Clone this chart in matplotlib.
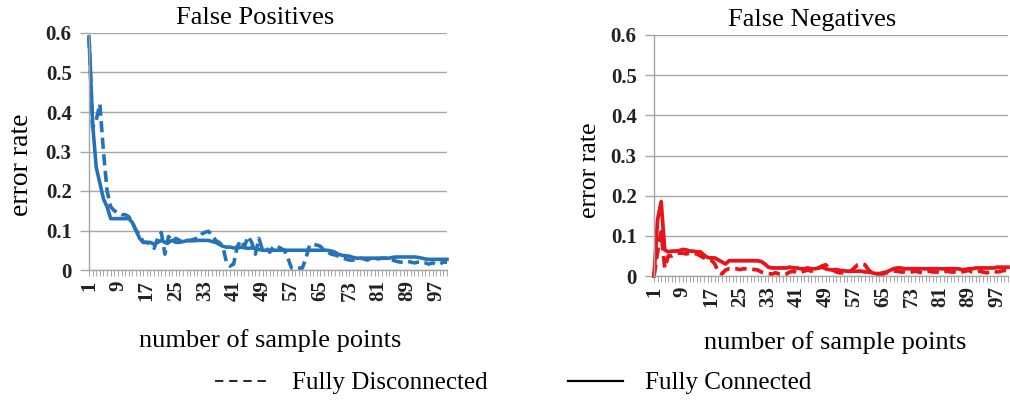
import matplotlib
matplotlib.use('Agg')

import numpy as np
import matplotlib.pyplot as plt
from matplotlib.lines import Line2D

plt.rcParams['font.family'] = ['Liberation Serif', 'DejaVu Serif']

# ---------------------------------------------------------------------------
# data: error rate per number of sample points (1..100)
# ---------------------------------------------------------------------------
sample_points = np.arange(1, 101)

fp_connected = [
    0.59, 0.37, 0.26, 0.22, 0.18, 0.16, 0.13, 0.13, 0.13, 0.13,
    0.13, 0.13, 0.12, 0.10, 0.08, 0.07, 0.07, 0.07, 0.065, 0.07,
    0.075, 0.07, 0.07, 0.075, 0.07, 0.07, 0.072, 0.074, 0.074, 0.074,
    0.075, 0.075, 0.075, 0.075, 0.072, 0.07, 0.065, 0.06, 0.058, 0.058,
    0.056, 0.056, 0.058, 0.056, 0.055, 0.056, 0.054, 0.052, 0.05, 0.05,
    0.05, 0.05, 0.05, 0.05, 0.05, 0.05, 0.05, 0.05, 0.05, 0.05,
    0.05, 0.05, 0.05, 0.05, 0.05, 0.05, 0.05, 0.048, 0.045, 0.04,
    0.037, 0.036, 0.035, 0.032, 0.03, 0.03, 0.03, 0.03, 0.03, 0.03,
    0.03, 0.03, 0.03, 0.03, 0.032, 0.033, 0.033, 0.033, 0.033, 0.033,
    0.033, 0.032, 0.03, 0.028, 0.027, 0.027, 0.027, 0.027, 0.027, 0.027,
]

fp_disconnected = [
    0.59, 0.36, 0.38, 0.42, 0.30, 0.20, 0.16, 0.15, 0.145, 0.14,
    0.14, 0.135, 0.12, 0.10, 0.09, 0.07, 0.07, 0.065, 0.055, 0.08,
    0.095, 0.04, 0.085, 0.07, 0.08, 0.075, 0.07, 0.075, 0.075, 0.078,
    0.08, 0.09, 0.095, 0.098, 0.09, 0.075, 0.07, 0.06, 0.02, 0.01,
    0.015, 0.06, 0.075, 0.06, 0.085, 0.07, 0.04, 0.08, 0.05, 0.055,
    0.045, 0.06, 0.06, 0.055, 0.05, 0.03, 0.005, 0.005, 0.005, 0.005,
    0.03, 0.063, 0.065, 0.063, 0.06, 0.05, 0.045, 0.04, 0.038, 0.035,
    0.03, 0.028, 0.025, 0.025, 0.028, 0.03, 0.028, 0.025, 0.03, 0.03,
    0.028, 0.03, 0.03, 0.028, 0.025, 0.022, 0.02, 0.02, 0.022, 0.02,
    0.018, 0.02, 0.02, 0.018, 0.015, 0.018, 0.015, 0.015, 0.02, 0.02,
]

fn_connected = [
    0.0, 0.14, 0.185, 0.065, 0.06, 0.062, 0.062, 0.063, 0.066, 0.065,
    0.062, 0.062, 0.06, 0.06, 0.052, 0.046, 0.045, 0.045, 0.04, 0.035,
    0.03, 0.038, 0.038, 0.038, 0.038, 0.038, 0.038, 0.038, 0.038, 0.038,
    0.036, 0.03, 0.022, 0.02, 0.02, 0.02, 0.02, 0.02, 0.022, 0.02,
    0.02, 0.018, 0.018, 0.02, 0.018, 0.018, 0.02, 0.022, 0.018, 0.016,
    0.015, 0.016, 0.014, 0.013, 0.012, 0.012, 0.012, 0.012, 0.012, 0.01,
    0.01, 0.008, 0.006, 0.006, 0.008, 0.01, 0.014, 0.018, 0.02, 0.02,
    0.018, 0.018, 0.018, 0.018, 0.018, 0.018, 0.018, 0.018, 0.018, 0.018,
    0.018, 0.018, 0.018, 0.018, 0.018, 0.018, 0.016, 0.016, 0.018, 0.018,
    0.02, 0.02, 0.02, 0.02, 0.02, 0.02, 0.022, 0.022, 0.022, 0.022,
]

fn_disconnected = [
    0.0, 0.06, 0.11, 0.02, 0.05, 0.05, 0.055, 0.057, 0.057, 0.055,
    0.057, 0.056, 0.055, 0.05, 0.045, 0.04, 0.04, 0.03, 0.01, 0.005,
    0.015, 0.018, 0.018, 0.018, 0.016, 0.018, 0.018, 0.018, 0.016, 0.015,
    0.01, 0.008, 0.006, 0.005, 0.008, 0.005, 0.003, 0.005, 0.01, 0.012,
    0.008, 0.01, 0.012, 0.015, 0.012, 0.018, 0.02, 0.025, 0.028, 0.02,
    0.015, 0.01, 0.008, 0.008, 0.01, 0.012, 0.02, 0.028, 0.03, 0.028,
    0.015, 0.008, 0.005, 0.005, 0.005, 0.008, 0.01, 0.012, 0.012, 0.01,
    0.01, 0.008, 0.01, 0.012, 0.01, 0.008, 0.01, 0.012, 0.01, 0.01,
    0.008, 0.01, 0.012, 0.01, 0.01, 0.008, 0.01, 0.012, 0.014, 0.01,
    0.01, 0.012, 0.01, 0.008, 0.01, 0.012, 0.01, 0.012, 0.014, 0.012,
]

y_ticks = [0, 0.1, 0.2, 0.3, 0.4, 0.5, 0.6]
y_tick_labels = ['0', '0.1', '0.2', '0.3', '0.4', '0.5', '0.6']
x_label_every = 8

BLUE = '#2672b8'
RED = '#e8141b'
GRID = '#a6a6a6'

# ---------------------------------------------------------------------------
# figure
# ---------------------------------------------------------------------------
W, H = 1010, 400
fig = plt.figure(figsize=(W / 100, H / 100), dpi=100)

def px_axes(x0, y0, x1, y1):
    return fig.add_axes([x0 / W, 1 - y1 / H, (x1 - x0) / W, (y1 - y0) / H])

ax_fp = px_axes(89, 33, 447, 270)
ax_fn = px_axes(654, 35, 1008, 276)


def style_axes(ax):
    ax.set_xlim(1, 100)
    ax.set_ylim(0, 0.6)
    ax.set_yticks(y_ticks)
    ax.set_yticklabels(y_tick_labels, fontsize=15, fontweight='bold',
                       color='#222222')
    ax.set_xticks(sample_points)
    ax.set_xticklabels([str(v) if (v - 1) % x_label_every == 0 else ''
                        for v in sample_points],
                       rotation=90, fontsize=15, fontweight='bold',
                       color='#222222')
    ax.tick_params(axis='y', length=6.5, width=1, color=GRID, pad=6)
    ax.tick_params(axis='x', length=4.5, width=0.7, color=GRID, pad=3)
    ax.grid(axis='y', color=GRID, linewidth=1.0)
    ax.set_axisbelow(True)
    for side in ('top', 'right'):
        ax.spines[side].set_visible(False)
    for side in ('left', 'bottom'):
        ax.spines[side].set_color(GRID)
        ax.spines[side].set_linewidth(1.0)


style_axes(ax_fp)
style_axes(ax_fn)

ax_fp.plot(sample_points, fp_connected, color=BLUE, lw=2.6,
           solid_joinstyle='round', clip_on=False)
ax_fp.plot(sample_points, fp_disconnected, color=BLUE, lw=2.6,
           dashes=(3.1, 1.5), clip_on=False)

ax_fn.plot(sample_points, fn_connected, color=RED, lw=2.7,
           solid_joinstyle='round', clip_on=False)
ax_fn.plot(sample_points, fn_disconnected, color=RED, lw=2.7,
           dashes=(3.1, 1.5), clip_on=False)

# titles / axis labels
fig.text(255 / W, 1 - 18 / H, 'False Positives', ha='center', va='center',
         fontsize=19)
fig.text(812 / W, 1 - 20 / H, 'False Negatives', ha='center', va='center',
         fontsize=19)
fig.text(22 / W, 1 - 165 / H, 'error rate', ha='center', va='center',
         rotation=90, fontsize=20)
fig.text(590 / W, 1 - 170 / H, 'error rate', ha='center', va='center',
         rotation=90, fontsize=18.5)
fig.text(270 / W, 1 - 341 / H, 'number of sample points', ha='center',
         va='center', fontsize=19)
fig.text(835 / W, 1 - 343 / H, 'number of sample points', ha='center',
         va='center', fontsize=19)

# legend
handles = [
    Line2D([], [], color='black', lw=1.2, dashes=(5, 3.5)),
    Line2D([], [], color='black', lw=1.6),
]
fig.legend(handles, ['Fully Disconnected', 'Fully Connected'],
           loc='center', bbox_to_anchor=(513 / W, 1 - 383 / H), ncol=2,
           frameon=False, fontsize=18, handlelength=2.2, handletextpad=0.9,
           columnspacing=3.2, borderpad=0, borderaxespad=0)

fig.savefig('out.png', dpi=100)
